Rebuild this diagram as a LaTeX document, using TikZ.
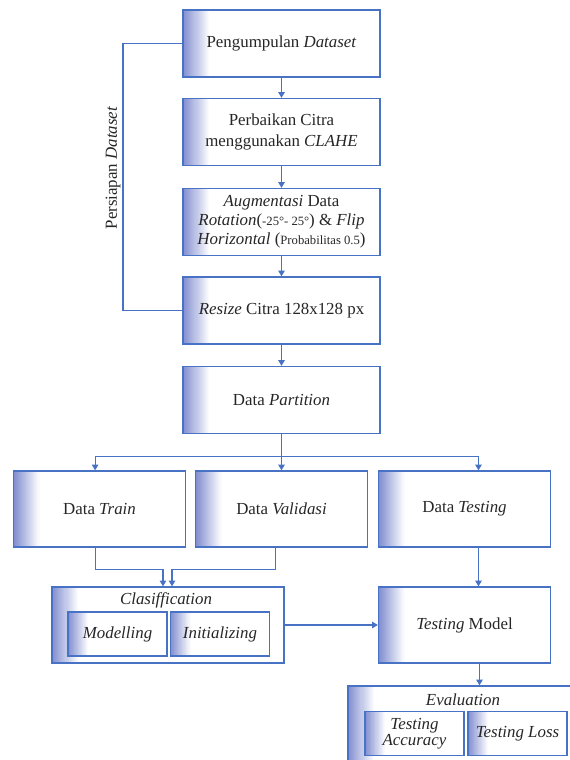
\documentclass[tikz,border=0pt]{standalone}
\usepackage{fontspec}
\setmainfont{Liberation Serif}
\usetikzlibrary{
    arrows.meta,
    positioning,
    calc
}
\definecolor{lineblue}{RGB}{72, 114, 196}
\definecolor{fadeblue}{RGB}{130, 142, 208}

\begin{document}
\begin{tikzpicture}[
        x=0.025cm, y=-0.025cm,
        fade/.style={path picture={
            \foreach \i [evaluate=\i as \p using int(100-4*\i)] in {0,...,24}
                \fill[fadeblue!\p!white] ([xshift=\i*#1/25]path picture bounding box.south west)
                    rectangle ([xshift=(\i+1.2)*#1/25]path picture bounding box.north west);}},
        box/.style={rectangle, draw=lineblue, line width=0.9pt, align=center, text=black!85, fade=0.65cm, font=\fontsize{12}{14.5}\selectfont},
        stepbox/.style={box, minimum width=4.925cm, minimum height=1.675cm},
        databox/.style={box, minimum width=4.3cm, minimum height=1.9cm},
        innerbox/.style={box, minimum width=2.475cm, minimum height=1.1cm, fade=0.5cm, font=\itshape\fontsize{12}{11.5}\selectfont},
        title/.style={text=black!85, font=\itshape\fontsize{12}{14}\selectfont},
        arrow/.style={-{Triangle[width=4.5pt,length=4pt]}, draw=lineblue, line width=0.8pt},
        bracket/.style={draw=lineblue, line width=1.4pt}
    ]
        \useasboundingbox (0,0) rectangle (570,760);
        \clip (0,0) rectangle (570,760);

        % persiapan dataset
        \node[stepbox] (kumpul) at (281.5,43.5) {Pengumpulan \textit{Dataset}};
        \node[stepbox] (clahe) at (281.5,132) {Perbaikan Citra\\menggunakan \textit{CLAHE}};
        \node[stepbox, font=\fontsize{12}{13.5}\selectfont] (augment) at (281.5,222) {\textit{Augmentasi} Data\\\textit{Rotation}({\small -25°- 25°}) \& \textit{Flip}\\\textit{Horizontal} ({\small Probabilitas 0.5})};
        \node[stepbox] (resize) at (281.5,310.5) {\textit{Resize} Citra 128x128 px};
        \node[stepbox] (partisi) at (281.5,400) {Data \textit{Partition}};
        \node[rotate=90, text=black!85, font=\fontsize{12}{14}\selectfont] (persiapan) at (113,168) {Persiapan \textit{Dataset}};

        % pembagian data
        \node[databox] (train) at (99.5,509) {Data \textit{Train}};
        \node[databox] (valid) at (281.5,509) {Data \textit{Validasi}};
        \node[databox] (test) at (464.5,509) {Data \textit{Testing}};

        % klasifikasi
        \node[box, minimum width=5.8cm, minimum height=1.9cm] (klasif) at (168,625) {};
        \node[title] (klasiftitle) at (166,600) {Clasiffication};
        \node[innerbox] (model) at (117.5,634) {Modelling};
        \node[innerbox] (init) at (220,634) {Initializing};
        \node[databox] (tmodel) at (464.5,625) {\textit{Testing} Model};

        % evaluasi
        \node[box, minimum width=6cm, minimum height=2.3cm] (eval) at (468,732) {};
        \node[title] (evaltitle) at (463,700) {Evaluation};
        \node[innerbox] (acc) at (414.5,733.5) {Testing\\Accuracy};
        \node[innerbox] (loss) at (517.5,733.5) {Testing Loss};

        \draw[arrow] (kumpul) -- (clahe);
        \draw[arrow] (clahe) -- (augment);
        \draw[arrow] (augment) -- (resize);
        \draw[arrow] (resize) -- (partisi);
        \draw[bracket] (kumpul.west) -- ++(-59,0) |- (resize.west);

        \coordinate (pecah) at ($(partisi.south)+(0,22)$);
        \draw[arrow] (partisi) -- (valid);
        \draw[arrow] (pecah) -| ([xshift=-0.11cm]train.north);
        \draw[arrow] (pecah) -| ([xshift=0.35cm]test.north);

        \draw[arrow] ([xshift=-0.11cm]train.south) -- ++(0,22) -| ([xshift=-0.125cm]klasif.north);
        \draw[arrow] ([xshift=-0.14cm]valid.south) -- ++(0,22) -| ([xshift=0.1cm]klasif.north);
        \draw[arrow] (klasif) -- (tmodel);
        \draw[arrow] ([xshift=0.35cm]test.south) -- ([xshift=0.35cm]tmodel.north);
        \draw[arrow] ([xshift=0.375cm]tmodel.south) -- ([xshift=0.375cm]tmodel.south |- eval.north);
    \end{tikzpicture}
\end{document}
